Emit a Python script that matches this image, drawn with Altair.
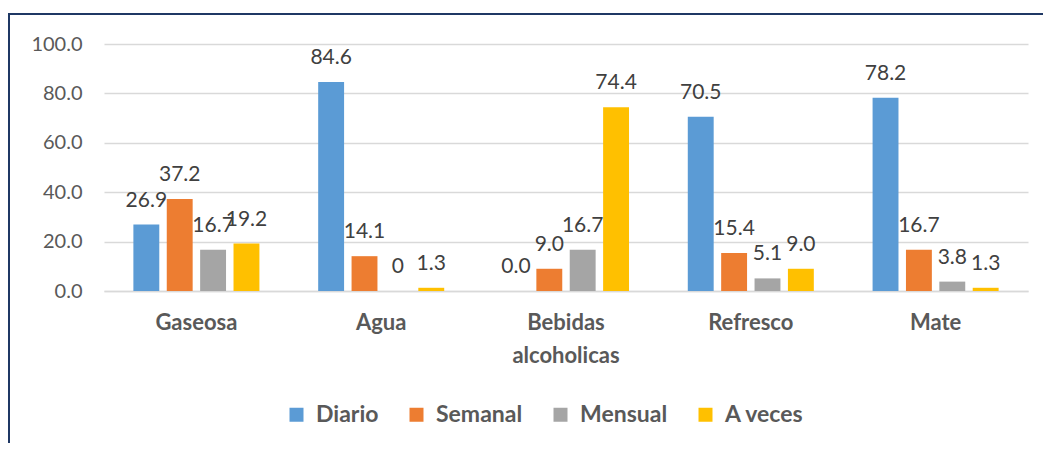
import altair as alt
import pandas as pd

categories = ["Gaseosa", "Agua", "Bebidas alcoholicas", "Refresco", "Mate"]
series = ["Diario", "Semanal", "Mensual", "A veces"]
colors = ["#5B9BD5", "#ED7D31", "#A5A5A5", "#FFC000"]

diario = [26.9, 84.6, 0.0, 70.5, 78.2]
semanal = [37.2, 14.1, 9.0, 15.4, 16.7]
mensual = [16.7, 0.0, 16.7, 5.1, 3.8]
aveces = [19.2, 1.3, 74.4, 9.0, 1.3]

lab_diario = ["26.9", "84.6", "0.0", "70.5", "78.2"]
lab_semanal = ["37.2", "14.1", "9.0", "15.4", "16.7"]
lab_mensual = ["16.7", "0", "16.7", "5.1", "3.8"]
lab_aveces = ["19.2", "1.3", "74.4", "9.0", "1.3"]

rows = []
for s, vals, labs in zip(series, [diario, semanal, mensual, aveces],
                         [lab_diario, lab_semanal, lab_mensual, lab_aveces]):
    for c, v, l in zip(categories, vals, labs):
        rows.append({"cat": c, "serie": s, "valor": v, "etiqueta": l})
df = pd.DataFrame(rows)

FONT = "Lato"

x = alt.X(
    "cat:N", sort=categories,
    scale=alt.Scale(paddingInner=0.275, paddingOuter=0.1375),
    axis=alt.Axis(
        title=None, labelAngle=0, labelFont=FONT, labelFontWeight="bold",
        labelFontSize=22, labelColor="#595959", labelPadding=21, ticks=False,
        domainColor="#D9D9D9", domainWidth=1.5, labelLineHeight=33, grid=False,
        labelExpr="datum.label == 'Bebidas alcoholicas' ? ['Bebidas', 'alcoholicas'] : datum.label",
    ),
)
xo = alt.XOffset("serie:N", sort=series,
                 scale=alt.Scale(paddingInner=0.224, paddingOuter=0.119))
y = alt.Y(
    "valor:Q", scale=alt.Scale(domain=[0, 100], nice=False),
    axis=alt.Axis(
        title=None, values=[0, 20, 40, 60, 80, 100], format=".1f",
        labelFont=FONT, labelFontSize=20, labelColor="#595959", labelPadding=22,
        ticks=False, domain=False, gridColor="#D9D9D9", gridWidth=1.5,
    ),
)

base = alt.Chart(df)
bars = base.mark_bar().encode(
    x=x, xOffset=xo, y=y,
    color=alt.Color(
        "serie:N", sort=series,
        scale=alt.Scale(domain=series, range=colors),
        legend=alt.Legend(
            orient="none", legendX=181, legendY=359, direction="horizontal",
            title=None, symbolType="square", symbolSize=196, symbolStrokeWidth=0,
            labelFont=FONT, labelFontSize=23, labelFontWeight="bold",
            labelColor="#595959", columnPadding=26, labelOffset=8,
        ),
    ),
)
texts = base.mark_text(dy=-24, baseline="middle", font=FONT, fontSize=21,
                       color="#404040").encode(
    x=x, xOffset=xo, y=y, text="etiqueta:N"
)

one = alt.Chart(pd.DataFrame({"a": [0]}))
top_line = one.mark_rule(color="#1F3864", strokeWidth=2).encode(
    x=alt.value(-95), x2=alt.value(960), y=alt.value(-30)
)
left_line = one.mark_rule(color="#1F3864", strokeWidth=2).encode(
    x=alt.value(-95), y=alt.value(-31), y2=alt.value(420)
)

chart = alt.layer(bars, texts, top_line, left_line).properties(
    width=924, height=247,
    padding={"left": 96, "top": 36, "right": 15, "bottom": 152},
    autosize=alt.AutoSizeParams(type="none"),
).configure_view(stroke=None)

chart.save("out.html", embed_options={"renderer": "svg", "actions": False})
